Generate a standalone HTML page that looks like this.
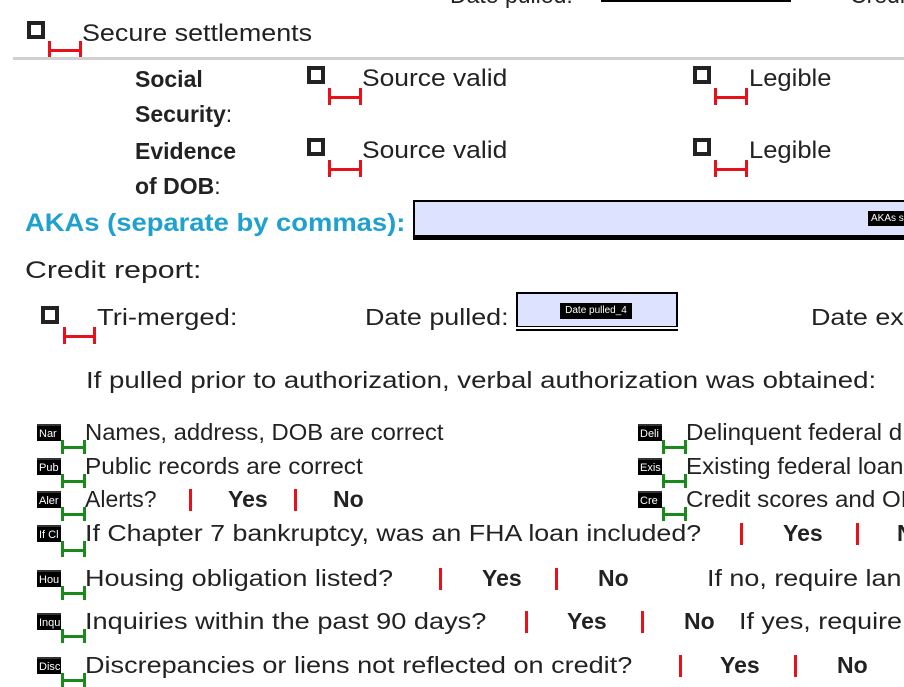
<!DOCTYPE html>
<html><head><meta charset="utf-8"><style>
body{margin:0;width:904px;height:687px;overflow:hidden;background:#fff;position:relative;font-family:"Liberation Sans",sans-serif;color:#222}
.t{position:absolute;white-space:nowrap;line-height:1;font-size:23px;transform-origin:0 0}
.b{font-weight:bold}
.cb{position:absolute;width:10px;height:10px;border:4px solid #222;background:#fff}
.rv,.gv{position:absolute;width:3px;height:17px}
.rv{background:#e8101a}.gv{background:#1a8a1a}
.rh,.gh{position:absolute;height:3px}
.rh{background:#e8101a}.gh{background:#1a8a1a}
.bar{position:absolute;width:3px;height:22px;background:#e8101a}
.ic{position:absolute;width:24px;height:17px;background:#000;color:#fff;font-size:11px;line-height:17px;overflow:hidden;white-space:nowrap;padding-left:2px;box-sizing:border-box;border-top:2px solid #333}
</style></head><body>

<div class="t" style="left:450px;top:-16px">Date pulled:</div>
<div style="position:absolute;left:601px;top:-4px;width:186px;height:4px;background:#dde3ff;border:2px solid #000;border-top:none"></div>
<div class="t" style="left:850px;top:-16px">Credi</div>

<div class="cb" style="left:27px;top:21px"></div>
<div class="rv" style="left:48px;top:41px"></div><div class="rv" style="left:79px;top:41px"></div><div class="rh" style="left:48px;top:49px;width:34px"></div>
<div class="t" style="left:82px;top:22px;font-size:24px;transform:scaleX(1.12)">Secure settlements</div>
<div style="position:absolute;left:13px;top:57px;width:891px;height:3px;background:#d0d0d0"></div>

<div class="t b" style="left:135px;top:68px">Social</div>
<div class="t b" style="left:135px;top:103px">Security<span style="font-weight:normal">:</span></div>
<div class="t b" style="left:135px;top:140px">Evidence</div>
<div class="t b" style="left:135px;top:175px">of DOB<span style="font-weight:normal">:</span></div>

<div class="cb" style="left:307px;top:66px"></div>
<div class="rv" style="left:328px;top:88px"></div><div class="rv" style="left:359px;top:88px"></div><div class="rh" style="left:328px;top:96px;width:34px"></div>
<div class="t" style="left:362px;top:67px;font-size:24px;transform:scaleX(1.1)">Source valid</div>
<div class="cb" style="left:693px;top:66px"></div>
<div class="rv" style="left:714px;top:88px"></div><div class="rv" style="left:745px;top:88px"></div><div class="rh" style="left:714px;top:96px;width:34px"></div>
<div class="t" style="left:749px;top:67px;font-size:24px;transform:scaleX(1.065)">Legible</div>

<div class="cb" style="left:307px;top:138px"></div>
<div class="rv" style="left:328px;top:160px"></div><div class="rv" style="left:359px;top:160px"></div><div class="rh" style="left:328px;top:168px;width:34px"></div>
<div class="t" style="left:362px;top:139px;font-size:24px;transform:scaleX(1.1)">Source valid</div>
<div class="cb" style="left:693px;top:138px"></div>
<div class="rv" style="left:714px;top:160px"></div><div class="rv" style="left:745px;top:160px"></div><div class="rh" style="left:714px;top:168px;width:34px"></div>
<div class="t" style="left:749px;top:139px;font-size:24px;transform:scaleX(1.065)">Legible</div>

<div class="t b" style="left:25px;top:211px;font-size:25px;color:#1fa0d0;transform:scaleX(1.095)">AKAs (separate by commas):</div>
<div style="position:absolute;left:413px;top:200px;width:500px;height:33px;background:#dde3ff;border:2px solid #000;border-bottom:5px solid #000"></div>
<div style="position:absolute;left:868px;top:211px;width:40px;height:15px;background:#000;color:#fff;font-size:10px;line-height:15px;padding-left:3px">AKAs s</div>

<div class="t" style="left:25px;top:259px;font-size:24px;transform:scaleX(1.26)">Credit report:</div>
<div class="cb" style="left:41px;top:306px"></div>
<div class="rv" style="left:63px;top:327px"></div><div class="rv" style="left:93px;top:327px"></div><div class="rh" style="left:63px;top:335px;width:33px"></div>
<div class="t" style="left:97px;top:306px;transform:scaleX(1.19)">Tri-merged:</div>
<div class="t" style="left:365px;top:306px;transform:scaleX(1.17)">Date pulled:</div>
<div style="position:absolute;left:516px;top:292px;width:158px;height:32px;background:#dde3ff;border:2px solid #000;border-bottom:none"></div>
<div style="position:absolute;left:516px;top:326px;width:162px;height:1px;background:#000"></div>
<div style="position:absolute;left:516px;top:329px;width:162px;height:2px;background:#000"></div>
<div style="position:absolute;left:560px;top:303px;width:72px;height:16px;background:#000;color:#fff;font-size:10px;line-height:16px;text-align:center">Date pulled_4</div>
<div class="t" style="left:811px;top:306px;transform:scaleX(1.17)">Date exp</div>

<div class="t" style="left:86px;top:369px;transform:scaleX(1.2)">If pulled prior to authorization, verbal authorization was obtained:</div>

<div class="ic" style="left:37px;top:424px">Nar</div>
<div class="gv" style="left:61px;top:440px;height:14px"></div><div class="gv" style="left:83px;top:440px;height:14px"></div><div class="gh" style="left:61px;top:446px;width:25px"></div>
<div class="t" style="left:85px;top:421px;transform:scaleX(1.035)">Names, address, DOB are correct</div>

<div class="ic" style="left:37px;top:458px">Pub</div>
<div class="gv" style="left:61px;top:474px;height:14px"></div><div class="gv" style="left:83px;top:474px;height:14px"></div><div class="gh" style="left:61px;top:480px;width:25px"></div>
<div class="t" style="left:85px;top:455px;transform:scaleX(1.06)">Public records are correct</div>

<div class="ic" style="left:37px;top:491px">Aler</div>
<div class="gv" style="left:61px;top:507px;height:14px"></div><div class="gv" style="left:83px;top:507px;height:14px"></div><div class="gh" style="left:61px;top:513px;width:25px"></div>
<div class="t" style="left:85px;top:488px">Alerts?</div>
<div class="bar" style="left:189px;top:489px"></div>
<div class="t b" style="left:228px;top:488px">Yes</div>
<div class="bar" style="left:294px;top:489px"></div>
<div class="t b" style="left:333px;top:488px">No</div>

<div class="ic" style="left:37px;top:525px">If Cl</div>
<div class="gv" style="left:61px;top:541px;height:16px"></div><div class="gv" style="left:83px;top:541px;height:16px"></div><div class="gh" style="left:61px;top:549px;width:25px"></div>
<div class="t" style="left:85px;top:522px;transform:scaleX(1.165)">If Chapter 7 bankruptcy, was an FHA loan included?</div>
<div class="bar" style="left:740px;top:523px"></div>
<div class="t b" style="left:783px;top:522px">Yes</div>
<div class="bar" style="left:856px;top:523px"></div>
<div class="t b" style="left:897px;top:522px">No</div>

<div class="ic" style="left:37px;top:570px">Hou</div>
<div class="gv" style="left:61px;top:586px;height:14px"></div><div class="gv" style="left:83px;top:586px;height:14px"></div><div class="gh" style="left:61px;top:592px;width:25px"></div>
<div class="t" style="left:85px;top:567px;transform:scaleX(1.175)">Housing obligation listed?</div>
<div class="bar" style="left:439px;top:568px"></div>
<div class="t b" style="left:482px;top:567px">Yes</div>
<div class="bar" style="left:555px;top:568px"></div>
<div class="t b" style="left:598px;top:567px">No</div>
<div class="t" style="left:707px;top:567px;transform:scaleX(1.17)">If no, require lan</div>

<div class="ic" style="left:37px;top:613px">Inqu</div>
<div class="gv" style="left:61px;top:629px;height:14px"></div><div class="gv" style="left:83px;top:629px;height:14px"></div><div class="gh" style="left:61px;top:635px;width:25px"></div>
<div class="t" style="left:85px;top:610px;transform:scaleX(1.18)">Inquiries within the past 90 days?</div>
<div class="bar" style="left:525px;top:611px"></div>
<div class="t b" style="left:567px;top:610px">Yes</div>
<div class="bar" style="left:641px;top:611px"></div>
<div class="t b" style="left:684px;top:610px">No</div>
<div class="t" style="left:739px;top:610px;transform:scaleX(1.17)">If yes, require</div>

<div class="ic" style="left:37px;top:657px">Disc</div>
<div class="gv" style="left:61px;top:673px;height:14px"></div><div class="gv" style="left:83px;top:673px;height:14px"></div><div class="gh" style="left:61px;top:679px;width:25px"></div>
<div class="t" style="left:85px;top:654px;transform:scaleX(1.176)">Discrepancies or liens not reflected on credit?</div>
<div class="bar" style="left:679px;top:655px"></div>
<div class="t b" style="left:720px;top:654px">Yes</div>
<div class="bar" style="left:794px;top:655px"></div>
<div class="t b" style="left:837px;top:654px">No</div>

<div class="ic" style="left:638px;top:424px">Deli</div>
<div class="gv" style="left:662px;top:440px;height:14px"></div><div class="gv" style="left:684px;top:440px;height:14px"></div><div class="gh" style="left:662px;top:446px;width:25px"></div>
<div class="t" style="left:686px;top:421px;transform:scaleX(1.05)">Delinquent federal d</div>

<div class="ic" style="left:638px;top:458px">Exis</div>
<div class="gv" style="left:662px;top:474px;height:14px"></div><div class="gv" style="left:684px;top:474px;height:14px"></div><div class="gh" style="left:662px;top:480px;width:25px"></div>
<div class="t" style="left:686px;top:455px;transform:scaleX(1.05)">Existing federal loan</div>

<div class="ic" style="left:638px;top:491px">Cre</div>
<div class="gv" style="left:662px;top:507px;height:14px"></div><div class="gv" style="left:684px;top:507px;height:14px"></div><div class="gh" style="left:662px;top:513px;width:25px"></div>
<div class="t" style="left:686px;top:488px;transform:scaleX(1.05)">Credit scores and OF</div>

</body></html>
